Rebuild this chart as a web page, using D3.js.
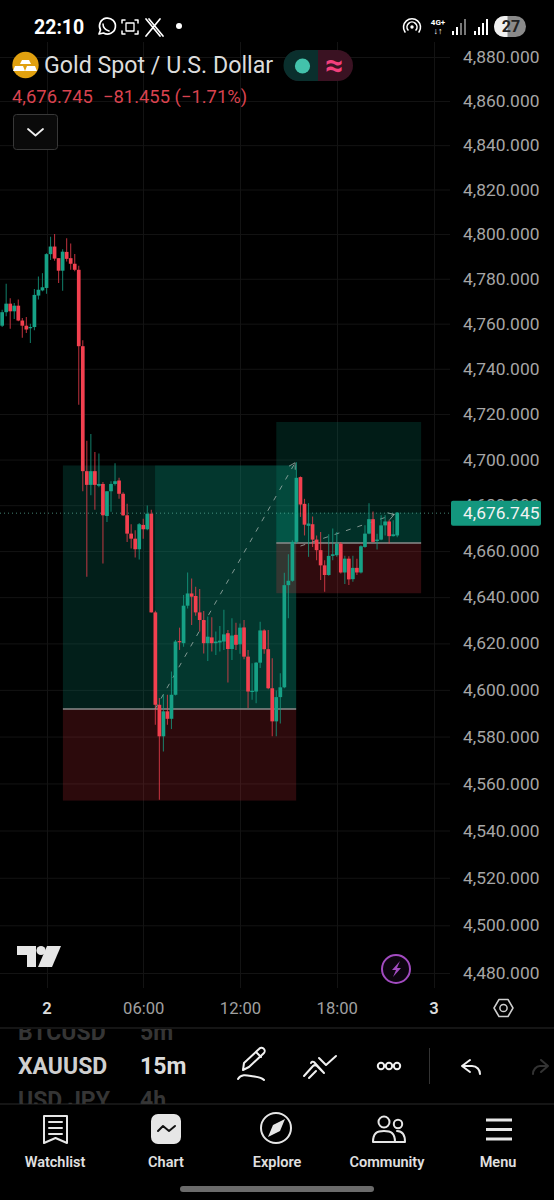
<!DOCTYPE html>
<html><head><meta charset="utf-8">
<script src="https://cdn.jsdelivr.net/npm/d3@7/dist/d3.min.js"></script>
<style>
html,body{margin:0;padding:0;background:#000;overflow:hidden}
svg{display:block;font-family:Roboto,sans-serif}
</style></head><body><div id="c"></div>
<script>
// ---------- data ----------
const opens=[4759.1,4765.1,4768.9,4765.5,4768,4761.4,4759.1,4758,4758.5,4772.5,4774.8,
4775.9,4791,4794.4,4789.2,4783.6,4792,4789.2,4786.7,4784,4750,
4694.9,4688.9,4694.9,4688.5,4689.3,4675.3,4686.1,4689.3,4690.8,4685,
4675.6,4667.6,4665.4,4660.8,4671.4,4669.5,4676.3,4633.4,4593.6,4580.1,
4590.8,4587.6,4597.9,4621,4620.1,4636.3,4641.6,4640.5,4633.4,4630.1,
4620.1,4622.6,4620.1,4620.4,4620.8,4624.4,4617.6,4623.7,4619.6,4626.9,
4614.3,4599.3,4599.3,4611.7,4625.6,4617.5,4600.7,4586.5,4596.9,4601.1,
4645.2,4647.1,4664,4692.3,4680.6,4671,4671.7,4665,4660.4,4653.8,
4649.6,4657.9,4658.2,4663.2,4650.7,4656.7,4647.8,4652.7,4650.7,4661.8,
4667.6,4673.9,4664.4,4665,4671.2,4672.9,4666.5,4666.8];
const closes=[4765.1,4768.9,4765.5,4768,4761.4,4759.1,4757.4,4758.5,4772.8,4775.1,4776.2,
4791,4794.4,4789,4783.6,4792.1,4788.9,4786.7,4784,4750,4694.9,
4688.9,4694.9,4688.9,4689.3,4675.6,4686.1,4689.3,4690.5,4685,4675.6,
4667.6,4665.4,4660.8,4671.7,4669.5,4676.3,4633.4,4593.6,4580.1,4590.8,
4587.6,4597.9,4620.8,4620.5,4636.3,4641.6,4640.2,4633.4,4630.1,4620.1,
4622.9,4620.1,4620.8,4621.2,4623.9,4617.6,4623.4,4619.4,4626.8,4614.3,
4599.3,4599.6,4611.7,4625.6,4617.5,4600.7,4586.5,4596.9,4601.1,4645.2,
4647.1,4664,4692,4680.3,4671.5,4672,4665,4660.4,4653.8,4649.6,
4657.9,4658.6,4663.2,4650.7,4656.7,4647.7,4652.7,4650.7,4662.1,4667.6,
4673.9,4664,4665,4671.2,4672.9,4666.5,4667.3,4676.745];
const highs=[4766.2,4777.8,4771.3,4769.2,4770.7,4762.5,4763,4760,4775.4,4781,4782.5,
4791.4,4798.8,4800,4789.2,4793.2,4798.1,4795.8,4791.1,4785.8,4752.6,
4708.2,4711.2,4703.3,4702.6,4690.1,4686.1,4690.5,4698.4,4692,4685.7,
4680.6,4671.7,4669.1,4672.2,4674.1,4679.9,4678,4634.1,4596.5,4597.9,
4597.9,4607.9,4621.5,4626.8,4640.9,4650.7,4648.1,4644.5,4643.5,4634,
4631.6,4631.3,4625.1,4627.5,4634.5,4625.8,4630.9,4628.9,4628.6,4630.1,
4617.2,4611.5,4612,4629.4,4626.1,4625.8,4613.6,4599.7,4607.2,4650.6,
4658.6,4664.7,4698.8,4692.6,4682.8,4680.9,4675.1,4666.8,4668.3,4656,
4667.3,4669.8,4668.3,4664,4658,4657.7,4658,4656.7,4662.5,4671.2,
4680.9,4677.3,4667.6,4675.6,4675.6,4673.7,4673.4,4677];
const lows=[4758.5,4763.3,4757.7,4762.1,4761.1,4753.7,4755.9,4751.4,4757.1,4770.7,4774.4,
4773.3,4788.4,4788.1,4778.1,4774.7,4787.7,4784,4783.3,4724.1,4686.1,
4648.8,4684.3,4678,4687.9,4654.6,4672.7,4677.1,4688.6,4682.8,4675.3,
4664,4661.1,4657.2,4656.3,4665.4,4669.1,4633.4,4585.1,4553.1,4573.6,
4585.1,4583.2,4597.6,4617.2,4618.6,4635.1,4627.9,4632,4625.1,4615.7,
4612.4,4616.5,4615,4616.5,4617.2,4603.2,4612.9,4617.2,4615.5,4613.2,
4592.2,4595.8,4594.3,4609.4,4615.5,4600.3,4580.1,4580.1,4585.6,4600.7,
4630.9,4646.7,4663.2,4674.9,4666.8,4657.5,4661.8,4656,4647.4,4642.3,
4649.3,4656,4657.5,4650.3,4645.7,4645.3,4646.7,4649.6,4650.3,4661.5,
4667.3,4663.7,4660.7,4664.7,4666.8,4663.2,4666.4,4666];
const firstBarMinute=-165, barMinutes=15;

const priceTicks=[4880,4860,4840,4820,4800,4780,4760,4740,4720,4700,4680,4660,4640,4620,4600,4580,4560,4540,4520,4500,4480];
const timeTicks=[0,360,720,1080,1440];
const timeLabels=["2","06:00","12:00","18:00","3"];

// position tools
const posAstart=61,posAend=929,posAfill=404,posAtarget=4697.4,posAentry=4591.8,posAstop=4552.7;
const posBstart=855,posBend=1394,posBtarget=4716.5,posBentry=4663.5,posBstop=4641.7;
const lastPrice=4676.745;
const arrowA=[[404,4591.8],[925,4698.6]];
const arrowB=[[945,4662.2],[1294,4676]];
const title="Gold Spot / U.S. Dollar";
const quote="4,676.745";
const change="−81.455 (−1.71%)";

// ---------- scales ----------
const W=554,H=1200;
const svg=d3.select("#c").append("svg").attr("width",W).attr("height",H).attr("viewBox",`0 0 ${W} ${H}`);
svg.append("rect").attr("width",W).attr("height",H).attr("fill","#000");
const x=d3.scaleLinear().domain([0,1440]).range([46.5,433.5]);
const y=d3.scaleLog().domain([4880,4480]).range([57,973]);
const G="#16a186",R="#f2404f";

const bars=opens.map((o,i)=>({t:firstBarMinute+i*barMinutes,o,c:closes[i],h:highs[i],l:lows[i]}));

// ---------- grid ----------
const grid=svg.append("g");
grid.selectAll("line.h").data(priceTicks).join("line").attr("class","h").attr("x1",0).attr("x2",450)
 .attr("y1",d=>y(d)+.5).attr("y2",d=>y(d)+.5).attr("stroke","#131313");
grid.selectAll("line.v").data(timeTicks).join("line").attr("class","v").attr("y1",42).attr("y2",988)
 .attr("x1",d=>Math.round(x(d))+.5).attr("x2",d=>Math.round(x(d))+.5).attr("stroke","#131313");

// ---------- position boxes ----------
const teal="#089981",red="#f23645";
function box(g,t0,t1,p0,p1,fill,op){g.append("rect").attr("x",x(t0)).attr("width",x(t1)-x(t0))
 .attr("y",y(p0)).attr("height",y(p1)-y(p0)).attr("fill",fill).attr("fill-opacity",op);}
const pos=svg.append("g");
box(pos,posAstart,posAend,posAtarget,posAentry,teal,.2);
box(pos,posAfill,posAend,posAtarget,posAentry,teal,.2);
box(pos,posAstart,posAend,posAentry,posAstop,red,.18);
box(pos,posBstart,posBend,posBtarget,posBentry,teal,.18);
box(pos,posBstart,posBend,lastPrice,posBentry,teal,.16);
box(pos,posBstart,posBend,posBentry,posBstop,red,.2);
[[posAstart,posAend,posAentry],[posBstart,posBend,posBentry]].forEach(a=>{
 pos.append("line").attr("x1",x(a[0])).attr("x2",x(a[1])).attr("y1",y(a[2])).attr("y2",y(a[2])).attr("stroke","#8b8b8b").attr("stroke-width",1.4);
});
// dashed arrows
[arrowA,arrowB].forEach(a=>{
 const x1=x(a[0][0]),y1=y(a[0][1]),x2=x(a[1][0]),y2=y(a[1][1]);
 pos.append("line").attr("x1",x1).attr("y1",y1).attr("x2",x2).attr("y2",y2).attr("stroke","#a9b8b3").attr("stroke-opacity",.75).attr("stroke-width",1).attr("stroke-dasharray","5 7");
 const ang=Math.atan2(y2-y1,x2-x1);
 [2.6,-2.6].forEach(s=>pos.append("line").attr("x1",x2).attr("y1",y2).attr("x2",x2+7*Math.cos(ang+s)).attr("y2",y2+7*Math.sin(ang+s)).attr("stroke","#a9b8b3").attr("stroke-opacity",.75).attr("stroke-width",1));
});

// last price dotted line
svg.append("line").attr("x1",0).attr("x2",451).attr("y1",y(lastPrice)+.5).attr("y2",y(lastPrice)+.5)
 .attr("stroke","#5fb8a4").attr("stroke-opacity",.7).attr("stroke-dasharray","1 3");

// ---------- candles ----------
const cg=svg.append("g").selectAll("g").data(bars).join("g");
cg.append("line").attr("x1",d=>x(d.t)).attr("x2",d=>x(d.t)).attr("y1",d=>y(d.h)).attr("y2",d=>y(d.l))
 .attr("stroke",d=>d.c>=d.o?G:R).attr("stroke-opacity",.72).attr("stroke-width",1.1);
cg.append("rect").attr("x",d=>x(d.t)-1.85).attr("width",3.7)
 .attr("y",d=>Math.min(y(d.o),y(d.c))).attr("height",d=>Math.max(1.2,Math.abs(y(d.o)-y(d.c))))
 .attr("fill",d=>d.c>=d.o?G:R);

// ---------- axes ----------
const ya=svg.append("g").attr("transform","translate(463,0)")
 .call(d3.axisRight(y).tickValues(priceTicks).tickFormat(d3.format(",.3f")).tickSize(0).tickPadding(0));
ya.select(".domain").remove();
ya.selectAll("text").attr("fill","#a6a6a6").attr("font-size",17.4).attr("font-family","Roboto");
const xa=svg.append("g").attr("transform","translate(0,1002)")
 .call(d3.axisBottom(x).tickValues(timeTicks).tickFormat((d,i)=>timeLabels[i]).tickSize(0).tickPadding(0));
xa.select(".domain").remove();
xa.selectAll("text").attr("fill",(d,i)=>(i%4==0)?"#dcdcdc":"#a0a0a0").attr("font-weight",(d,i)=>(i%4==0)?600:400).attr("font-size",16.6).attr("font-family","Roboto");

// last price label
svg.append("rect").attr("x",451).attr("y",y(lastPrice)-12).attr("width",90).attr("height",25).attr("rx",2).attr("fill","#13977e");
svg.append("text").attr("x",463).attr("y",y(lastPrice)+6.5).attr("fill","#f2f2f2").attr("font-size",17.4).text(d3.format(",.3f")(lastPrice));

// ---------- header ----------
const ui=svg.append("g");
const T=(s,px,py,size,fill,w,anchor)=>ui.append("text").attr("x",px).attr("y",py).attr("font-size",size).attr("fill",fill).attr("font-weight",w||400).attr("text-anchor",anchor||"start").text(s);
const P=(d,stroke,sw,fill)=>ui.append("path").attr("d",d).attr("stroke",stroke||"none").attr("stroke-width",sw||0).attr("fill",fill||"none").attr("stroke-linecap","round").attr("stroke-linejoin","round");
T("22:10",34,34,19.5,"#fff",700);
// status icons
P("M99 34l1.5-4a8 8 0 1 1 3 3z","#fff",1.7);
P("M103 24c0 4 3 6 6 7","#fff",1.5);
P("M122 23v-3h3M135 20h3v3M138 31v3h-3M125 34h-3v-3","#fff",1.5);
P("M126 23h8v8h-8z","#fff",1.3);
P("M146 19l14 17M160 19l-14 17M149 19l14 17","#fff",1.7);
ui.append("circle").attr("cx",179).attr("cy",26).attr("r",3).attr("fill","#fff");
P("M405 32a8.5 8.5 0 1 1 14 0M408 30a5 5 0 1 1 8 0","#fff",1.6);
ui.append("circle").attr("cx",412).attr("cy",27).attr("r",1.7).attr("fill","#fff");
T("4G+",438,25,8,"#fff",700,"middle");
T("↓↑",438,34,9,"#fff",700,"middle");
[[453,4,"#fff"],[457,8,"#fff"],[461,12,"#777"],[465,16,"#777"],[475,4,"#fff"],[479,8,"#fff"],[483,12,"#fff"],[487,16,"#fff"]].forEach(b=>
 ui.append("rect").attr("x",b[0]-1).attr("y",35-b[1]).attr("width",2).attr("height",b[1]).attr("fill",b[2]));
ui.append("rect").attr("x",494).attr("y",16).attr("width",32).attr("height",21).attr("rx",10.5).attr("fill","#8a8a8a");
P("M504.5 16a10.5 10.5 0 0 0 0 21h3v-21z",null,0,"#f0f0f0");
T("27",511,32,16,"#222",700,"middle");

// gold icon
ui.append("circle").attr("cx",25.5).attr("cy",65).attr("r",13.2).attr("fill","#e0a00f");
P("M22 60h7l2 4h-11zM15 66h8l2 5h-12zM27 66h8l2 5h-12z",null,0,"#fff");
T(title,44,73,23.2,"#dcdcdc");
T(quote,12,103,18.4,"#d9434f");
T(change,103,103,18.4,"#d9434f");
// toggle pill
ui.append("rect").attr("x",284).attr("y",50).attr("width",69).attr("height",31).attr("rx",15.5).attr("fill","#3a1222");
P("M299 50a15.5 15.5 0 0 0 0 31h19v-31z",null,0,"#0a2f2d");
ui.append("circle").attr("cx",302.5).attr("cy",66).attr("r",7.6).attr("fill","#43c2ab");
T("≈",334,76,32,"#f2407c",700,"middle");
// dropdown
ui.append("rect").attr("x",13.5).attr("y",114.5).attr("width",44).attr("height",35).attr("rx",3).attr("fill","#0a0a0a").attr("stroke","#383838");
P("M28 129l7.5 6.5 7.5-6.5","#efefef",1.8);

// TV logo
P("M17 946h19v21h-9v-12h-10z",null,0,"#e6e6e6");
ui.append("circle").attr("cx",41).attr("cy",950.5).attr("r",4.6).attr("fill","#e6e6e6");
P("M47 946h14l-9 21h-14z",null,0,"#e6e6e6");
// bolt
ui.append("circle").attr("cx",396).attr("cy",969).attr("r",14).attr("fill","#0c040f").attr("stroke","#a24bc0").attr("stroke-width",2);
P("M400 961l-8 9h4l-3 7 8-9h-4z",null,0,"#a24bc0");
// settings hexagon
P("M494 1008l5-8.5h9l5 8.5-5 8.5h-9z","#cfcfcf",1.5);
ui.append("circle").attr("cx",503.5).attr("cy",1008).attr("r",3.6).attr("fill","none").attr("stroke","#cfcfcf").attr("stroke-width",1.5);

// ---------- toolbar ----------
ui.append("line").attr("x1",0).attr("x2",W).attr("y1",1028).attr("y2",1028).attr("stroke","#2b2b2b");
ui.append("line").attr("x1",0).attr("x2",W).attr("y1",1104).attr("y2",1104).attr("stroke","#2b2b2b");
svg.append("clipPath").attr("id","tb").append("rect").attr("x",0).attr("y",1029).attr("width",W).attr("height",75);
const tb=ui.append("g").attr("clip-path","url(#tb)");
const TT=(s,px,py,f)=>tb.append("text").attr("x",px).attr("y",py).attr("font-size",23).attr("font-weight",700).attr("fill",f).text(s);
TT("BTCUSD",18,1040,"#353535");TT("5m",140,1040,"#353535");
TT("XAUUSD",18,1074,"#cfcfcf");TT("15m",140,1074,"#dcdcdc");
TT("USD JPY",18,1108,"#353535");TT("4h",140,1108,"#353535");
// pencil
P("M243 1070l1-7 15-14a3 3 0 0 1 5 4l-15 14zM256 1052l5 5M238 1079c3-5 8-4 13-3s10 1 13 4","#f0f0f0",2);
// tools
P("M304 1076l9-10a3 3 0 0 1 4 0l7 7M309 1078l7-7M319 1058l7 7 10-9M311 1063a2 2 0 0 1 3-1l10 11","#f0f0f0",2);
[381,389,397].forEach(c=>ui.append("circle").attr("cx",c).attr("cy",1066).attr("r",3.2).attr("fill","none").attr("stroke","#f0f0f0").attr("stroke-width",2));
ui.append("line").attr("x1",429.5).attr("x2",429.5).attr("y1",1048).attr("y2",1084).attr("stroke","#333");
P("M470 1060l-8 6 8 6M462 1066h10c5 0 8 4 8 8","#f0f0f0",2);
P("M541 1060l7 6-7 6M548 1066h-8c-4 0-7 4-7 8","#333",2);

// ---------- tabs ----------
P("M44 1116h23v27l-11.5-5-11.5 5zM49 1122h13M49 1128h13M49 1134h13","#e6e6e6",2);
ui.append("rect").attr("x",151).attr("y",1114).attr("width",30).attr("height",30).attr("rx",7).attr("fill","#e6e6e6");
P("M158 1131l5-5 6 5 6-5","#111",2);
ui.append("circle").attr("cx",276).attr("cy",1128).attr("r",15).attr("fill","none").attr("stroke","#e6e6e6").attr("stroke-width",2);
P("M285 1119l-12 6-5 12 12-6z",null,0,"#e6e6e6");
P("M373 1142c0-9 4-11 11-11s11 2 11 11zM397 1131c5 0 8 3 8 11h-9","#e6e6e6",2);
ui.append("circle").attr("cx",384).attr("cy",1122).attr("r",5.5).attr("fill","none").attr("stroke","#e6e6e6").attr("stroke-width",2);
ui.append("circle").attr("cx",398).attr("cy",1124).attr("r",4.2).attr("fill","none").attr("stroke","#e6e6e6").attr("stroke-width",2);
[1120,1129.5,1139].forEach(v=>ui.append("rect").attr("x",486).attr("y",v-1.5).attr("width",26).attr("height",3).attr("fill","#e6e6e6"));
[["Watchlist",55],["Chart",166],["Explore",277],["Community",387],["Menu",498]].forEach(a=>T(a[0],a[1],1167,14.5,"#e0e0e0",600,"middle"));
ui.append("rect").attr("x",180).attr("y",1186).attr("width",194).attr("height",6).attr("rx",3).attr("fill","#6b6b6b");
</script></body></html>
